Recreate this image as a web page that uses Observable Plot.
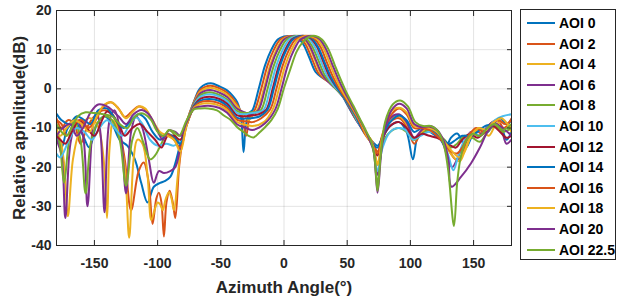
<!DOCTYPE html>
<html><head><meta charset="utf-8">
<script src="https://cdn.jsdelivr.net/npm/d3@7"></script>
<script src="https://cdn.jsdelivr.net/npm/@observablehq/plot@0.6"></script>
<style>
body{margin:0;background:#fff;font-family:"Liberation Sans",Arial,sans-serif;}
#wrap{position:relative;width:617px;height:302px;overflow:hidden;background:#fff;}
#chart{position:absolute;left:0;top:0;}
#legend{position:absolute;left:520px;top:9px;width:96px;height:251px;border:1px solid #262626;background:#fff;box-sizing:border-box;}
.row{position:absolute;left:0;width:94px;height:20px;}
.sw{position:absolute;left:6px;top:9px;width:28px;height:0;border-top:2px solid;}
.lb{position:absolute;left:38px;top:0;line-height:20px;font-weight:bold;font-size:14px;color:#000;white-space:nowrap;}
</style></head>
<body><div id="wrap"><div id="chart"></div><div id="legend"></div></div>
<script>
const names = ["AOI 0","AOI 2","AOI 4","AOI 6","AOI 8","AOI 10","AOI 12","AOI 14","AOI 16","AOI 18","AOI 20","AOI 22.5"];
const colors = ["#0072BD","#D95319","#EDB120","#7E2F8E","#77AC30","#4DBEEE","#A2142F","#0072BD","#D95319","#EDB120","#7E2F8E","#77AC30"];
const xTicks = [-150,-100,-50,0,50,100,150];
const yTicks = [-40,-30,-20,-10,0,10,20];

// [azimuth angle (deg), relative amplitude (dB)]
const aoi0 = [[-180,-11],[-176,-15],[-171,-10],[-165,-8.5],[-159,-12],[-154,-15],[-148,-9],[-142,-7],[-136,-9],[-130,-13],[-124,-14.5],[-118,-18],[-113,-24],[-108,-29],[-103,-25],[-98,-24],[-94,-23.5],[-90,-22.5],[-86,-19],[-82,-14],[-77,-8.5],[-71,-3],[-66,0.3],[-58,1.4],[-51,0.6],[-45,-0.4],[-40,-2],[-37,-3.4],[-34,-7],[-32,-16.2],[-30,-9],[-27,-6],[-25,-5.5],[-20,0],[-15,6],[-10,10],[-5,12.6],[0,13.4],[5,13.5],[10,13.3],[15,11.5],[20,8],[25,4.3],[30,2.9],[35,2],[40,0.9],[45,-1],[50,-4],[55,-6.8],[60,-9.3],[65,-11.5],[70,-13.5],[74,-14.5],[78,-12.5],[84,-9.5],[91,-8.5],[97,-11],[102,-18],[106,-12],[112,-10.5],[118,-11.5],[124,-13],[128,-15],[132,-12.5],[137,-11.4],[141,-13.5],[144,-15],[149,-12],[155,-10],[161,-11],[166,-9],[172,-10],[176,-13],[180,-11]];
const aoi2 = [[-180,-7.6],[-176,-10],[-171,-8],[-166,-9],[-161,-14],[-156,-10],[-150,-7],[-143,-5.5],[-137,-6],[-131,-10],[-126,-18],[-121,-31],[-115,-21],[-111,-18.8],[-107,-24],[-104,-34.5],[-101,-28],[-99,-26.5],[-97,-29],[-95,-37.7],[-93,-29],[-90.5,-26],[-88,-29],[-86,-33],[-83,-20],[-80,-12.5],[-77,-8.5],[-71,-3.2],[-66,-0.2],[-58.2,0.8],[-51,0.1],[-45,-1],[-37,-4],[-33,-7],[-30,-12],[-27,-7],[-23,-5.3],[-18,0],[-13,6],[-8,10],[-3,12.6],[2,13.4],[7,13.5],[12,13.2],[17,11.4],[22,7.8],[27,4.1],[32,2.5],[37,1.4],[42,0.1],[47,-1.9],[52,-4.9],[57,-7.8],[62,-10],[66,-11.8],[70,-13.6],[74,-16],[78,-12],[84,-8.5],[91,-7.5],[97,-9.5],[103,-14],[108,-11.5],[114,-10],[120,-11],[126,-13],[131,-16],[136,-18],[140,-17.5],[145,-13],[151,-10.5],[157,-11.5],[163,-9],[169,-8],[174,-10],[180,-7.6]];
const aoi4 = [[-180,-11],[-177,-13],[-174,-19],[-171,-32.5],[-167,-18],[-162,-11],[-155,-7.5],[-148,-9],[-143,-17],[-140,-33],[-138,-15],[-135,-8],[-131,-11],[-126,-20],[-122.5,-38],[-119,-18],[-116,-13],[-112,-14],[-108,-22],[-105,-33.5],[-102,-30.5],[-100,-29],[-98,-29.5],[-96,-31],[-93.5,-28],[-91,-26.4],[-89,-28],[-87,-31],[-84,-22],[-81,-14],[-77,-8.5],[-71,-3.4],[-66,-0.6],[-58.4,0.3],[-51,-0.4],[-45,-1.5],[-37,-4.5],[-32,-6.5],[-28,-8],[-25,-6.8],[-21,-5.3],[-16,0],[-11,6],[-6,10],[-1,12.6],[4,13.4],[9,13.5],[14,13.2],[19,11.3],[24,7.7],[29,3.9],[34,2.2],[39,0.9],[44,-0.6],[49,-2.7],[54,-5.9],[59,-8.5],[64,-10.9],[70,-13.7],[74,-19],[78,-13],[84,-8],[91,-7],[97,-9],[103,-13],[109,-11],[115,-9.8],[121,-11],[127,-14],[133,-17],[139,-18.5],[144,-15],[150,-11],[156,-10.5],[162,-12],[168,-9],[174,-8.5],[180,-11]];
const aoi6 = [[-180,-13],[-176,-17],[-173,-33],[-169,-14],[-164,-8],[-159,-12],[-155.5,-30],[-151,-9],[-148,-6],[-145,-12],[-142,-31.5],[-138,-8],[-134,-5.5],[-129,-12],[-125,-26.7],[-121,-11],[-117,-7],[-112,-10],[-107,-18],[-103,-24],[-99,-21],[-95,-21.5],[-90,-21],[-86,-20],[-82,-15],[-77,-8.8],[-71,-3.6],[-66,-1.1],[-58.5,-0.3],[-51,-1],[-45,-2.1],[-37,-5.1],[-31,-6],[-27,-6.5],[-24,-6.3],[-20,-5.3],[-15,0],[-10,6],[-5,10],[0,12.6],[5,13.4],[10,13.5],[15,13.1],[20,11.2],[25,7.5],[30,3.8],[35,1.8],[40,0.3],[45,-1.4],[50,-3.6],[55,-6.8],[60,-9.4],[65,-11.6],[70,-14],[74,-22],[78,-13.5],[84,-7.5],[91,-6.5],[97,-8.5],[103,-12.5],[109,-10.5],[115,-9.5],[121,-10.5],[126,-14],[130,-18],[133,-20],[137,-18],[142,-14],[148,-11],[154,-12],[160,-10],[166,-8.5],[172,-10.5],[176,-14],[180,-13]];
const aoi8 = [[-180,-10],[-177,-15],[-174,-24],[-170,-13],[-166,-8],[-161,-13],[-157,-26.7],[-153,-14],[-148,-9],[-142,-7],[-136,-8],[-130,-13],[-125,-24.7],[-120,-13],[-116,-10],[-111,-14],[-106,-18],[-102,-17],[-97,-14],[-91,-10.5],[-86,-12],[-82,-14],[-77,-8.8],[-71,-3.8],[-66,-1.6],[-58.7,-0.9],[-51,-1.6],[-45,-2.7],[-37,-5.7],[-30,-6.2],[-26,-6],[-22,-6],[-18,-5.3],[-13,0],[-8,6],[-3,10],[2,12.6],[7,13.4],[12,13.5],[17,13.05],[22,11],[27,7.4],[32,3.6],[37,1.4],[42,-0.3],[47,-2.1],[52,-4.5],[57,-7.7],[62,-10],[66,-11.8],[70,-14.2],[74,-24],[78,-14],[84,-11],[91,-10],[97,-11],[103,-13],[109,-11.5],[115,-10.5],[121,-11.5],[127,-13],[132,-15],[137,-14],[143,-12],[149,-12.5],[155,-13.5],[161,-11],[167,-9.5],[173,-11],[180,-10]];
const aoi10 = [[-180,-16.6],[-177,-17.5],[-170,-13],[-164,-10],[-158,-11],[-152,-13],[-146,-10],[-140,-8],[-134,-10],[-128,-12],[-122,-9],[-117,-7.3],[-112,-9],[-106,-13],[-100,-14.5],[-93,-14],[-87,-14.5],[-82,-13.5],[-77,-9],[-71,-4],[-66,-2],[-58.9,-1.4],[-51,-2],[-45,-3.2],[-37,-6.2],[-31,-6.5],[-26,-6.2],[-21,-6],[-16,-5.3],[-11,0],[-6,6],[-1,10],[4,12.6],[9,13.4],[14,13.5],[19,13.0],[24,10.9],[29,7.2],[34,3.4],[39,1.0],[44,-0.8],[49,-2.9],[54,-5.4],[59,-8.7],[64,-11],[70,-14.4],[74,-21],[78,-15],[84,-11],[90,-10],[96,-10.5],[102,-13],[108,-12],[114,-11],[120,-11.5],[125,-13],[130,-17],[134,-20.8],[138,-17],[143,-13],[149,-11],[155,-12],[161,-10],[167,-8],[173,-7],[180,-6.5]];
const aoi12 = [[-180,-12],[-177,-13],[-173,-14],[-168,-11],[-162,-8],[-156,-10],[-150,-12],[-144,-8],[-140,-5.8],[-135,-7],[-130,-9.5],[-126,-12],[-120,-10],[-114,-9],[-108,-11],[-102,-13],[-97,-15],[-92,-12],[-87,-12],[-82,-13],[-77,-9],[-71,-4.2],[-66,-2.5],[-59,-2],[-51,-2.6],[-45,-3.8],[-37,-6.8],[-30,-7],[-26,-6.8],[-20,-6.5],[-14,-5.3],[-9,0],[-4,6],[1,10],[6,12.6],[11,13.4],[16,13.5],[21,12.9],[26,10.8],[31,7.0],[36,3.2],[41,0.7],[46,-1.4],[51,-3.6],[56,-6.2],[61,-9.6],[66,-12],[70,-14.5],[74,-17],[78,-12.5],[84,-9.5],[91,-8.5],[97,-10],[103,-12.5],[109,-11.5],[115,-12],[121,-12.5],[127,-13.5],[132,-14.5],[136,-15],[141,-13],[147,-11.5],[153,-12.5],[159,-11],[165,-9.5],[171,-11],[176,-12.5],[180,-12]];
const aoi14 = [[-180,-6.4],[-176,-8],[-170,-9],[-164,-7],[-158,-8],[-153,-9],[-147,-5.5],[-140,-5],[-133,-8],[-127,-10],[-121,-8],[-115,-6.5],[-110,-7.5],[-104,-11],[-98,-13],[-92,-11.5],[-87,-12.5],[-82,-14],[-77,-9.2],[-71,-4.4],[-66,-3],[-59.2,-2.6],[-51,-3.1],[-45,-4.4],[-37,-7.4],[-30,-7.6],[-26,-7.5],[-19,-7],[-13,-5.3],[-8,0],[-3,6],[2,10],[7,12.6],[12,13.4],[17,13.5],[22,12.9],[27,10.7],[32,6.9],[37,3.1],[42,0.3],[47,-2],[52,-4.4],[57,-7.1],[62,-10.5],[66,-12.3],[70,-14.1],[74,-15],[78,-12],[84,-8.5],[91,-6.8],[97,-8],[103,-11],[109,-10],[115,-10],[121,-11.5],[126,-13],[131,-14],[136,-13],[141,-12],[147,-12],[153,-11],[159,-9.5],[165,-9],[171,-7.5],[176,-9],[180,-8]];
const aoi16 = [[-180,-8],[-176,-9],[-172,-12],[-166,-9],[-160,-8],[-155,-10],[-149,-8],[-143,-4.5],[-137,-3.4],[-131,-5],[-126,-7.2],[-121,-6],[-115,-4.5],[-109,-5.5],[-103,-9],[-97,-12],[-92,-11.5],[-87,-13],[-82,-15],[-77,-9.3],[-71,-4.6],[-66,-3.4],[-59.4,-3.1],[-51,-3.7],[-45,-4.9],[-37,-7.9],[-30,-8.3],[-25,-8.5],[-18,-7.5],[-11,-5.3],[-6,0],[-1,6],[4,10],[9,12.6],[14,13.4],[19,13.5],[24,12.8],[29,10.6],[34,6.7],[39,2.9],[44,-0.1],[49,-2.6],[54,-5.1],[59,-8.0],[64,-11.5],[70,-14.2],[74,-16.5],[78,-11.5],[84,-7],[91,-5],[97,-6.5],[103,-10],[109,-10],[115,-10.5],[121,-12],[127,-14],[132,-16],[137,-16.5],[141,-15],[146,-12],[152,-10],[158,-11],[164,-9],[170,-8],[175,-9],[180,-8]];
const aoi18 = [[-180,-10],[-177,-12],[-172,-10],[-166,-8],[-160,-9],[-154,-11],[-148,-7],[-142,-4],[-136,-3.5],[-130,-5.5],[-125,-7.5],[-120,-6],[-115,-4.5],[-110,-5],[-104,-8],[-98,-11],[-92,-12],[-87,-13],[-82,-16],[-77,-9.3],[-71,-4.8],[-66,-3.9],[-59.6,-3.7],[-51,-4.3],[-45,-5.5],[-37,-8.5],[-30,-9.2],[-25,-9.5],[-16,-8.5],[-9,-5.3],[-4,0],[1,6],[6,10],[11,12.6],[16,13.4],[21,13.5],[26,12.7],[31,10.5],[36,6.6],[41,2.7],[46,-0.5],[51,-3.1],[56,-5.9],[61,-8.8],[66,-12.4],[70,-14.3],[74,-19.5],[78,-12],[84,-6],[91,-4.8],[97,-6],[103,-9.5],[109,-9.5],[115,-10],[121,-11],[127,-13.5],[133,-16],[139,-17.5],[143,-16],[148,-12],[154,-10],[160,-10.5],[166,-8.5],[172,-7.5],[177,-9],[180,-10]];
const aoi20 = [[-180,-12],[-175,-10],[-169,-9],[-164,-12],[-159,-10],[-153,-6],[-147,-4],[-140,-4.5],[-131,-7],[-125,-9],[-119,-6.5],[-113,-5.4],[-107,-6.5],[-101,-10],[-96,-13],[-91,-10.6],[-86,-11],[-82,-12],[-77,-8.5],[-71,-5],[-66,-4.5],[-59.8,-4.3],[-51,-4.9],[-45,-6.1],[-37,-9.1],[-30,-10],[-25,-10.5],[-15,-8.8],[-7,-5.3],[-2,0],[3,6],[8,10],[13,12.6],[18,13.4],[23,13.5],[28,12.7],[33,10.3],[38,6.4],[43,2.5],[48,-0.8],[53,-3.7],[58,-6.7],[63,-9.7],[68,-13.3],[71,-16],[74,-26.5],[77,-16],[80,-10],[85,-5.5],[91,-3.8],[97,-5],[103,-9],[109,-9.8],[115,-9.6],[121,-10.5],[126,-13],[130,-18],[132.5,-25],[140,-22.5],[148,-19],[155,-15],[161,-11],[167,-9],[173,-10],[180,-12]];
const aoi22_5 = [[-180,-9],[-176,-11],[-172,-12],[-168,-10],[-163,-7],[-157,-6],[-150,-6.2],[-143,-6.5],[-136,-7],[-130,-9],[-124,-10],[-119,-7.5],[-114,-6.3],[-110,-6.5],[-105,-8],[-100,-11],[-95,-12],[-91,-10.5],[-87,-11],[-83,-12],[-77,-8],[-71,-5.2],[-66,-5],[-60,-5],[-53,-5.5],[-47.6,-6.8],[-42,-8],[-37,-9.8],[-32,-11],[-28,-12],[-24,-12.4],[-19,-11],[-15,-9.8],[-10,-8],[-5,-5.2],[0,0.2],[5,5],[10,9.5],[15,12],[20,13.3],[25,13.5],[30,12.6],[35,10.2],[40,6.2],[45,2.3],[50,-1.3],[55,-4.4],[60,-7.6],[65,-10.8],[69,-13.5],[71.5,-17],[74,-26],[76.5,-17],[80,-8.5],[86,-4],[92,-3],[98,-4.5],[104,-8.5],[110,-9.5],[116,-9.5],[121,-10.5],[124,-12],[127,-15],[130,-21],[134.5,-35],[137,-24],[139.5,-18],[143,-14],[149,-11.5],[155,-12],[161,-10],[167,-9],[173,-10.5],[180,-9]];

const seriesData = [aoi0, aoi2, aoi4, aoi6, aoi8, aoi10, aoi12, aoi14, aoi16, aoi18, aoi20, aoi22_5];
const rows = seriesData.flatMap((pts, i) =>
  pts.slice().sort((a, b) => a[0] - b[0]).map(([angle, db]) => ({aoi: names[i], angle, db})));

const fmt = d => String(d);
const chart = Plot.plot({
  width: 517, height: 302,
  marginLeft: 56, marginRight: 6, marginTop: 10, marginBottom: 57,
  style: {fontFamily: "'Liberation Sans', Arial, sans-serif", fontSize: "14px", fontWeight: "bold", color: "#262626", background: "#fff"},
  x: {domain: [-180, 180]},
  y: {domain: [-40, 20]},
  color: {domain: names, range: colors},
  marks: [
    Plot.gridX(xTicks, {stroke: "#000", strokeOpacity: 0.11, strokeWidth: 1}),
    Plot.gridY(yTicks, {stroke: "#000", strokeOpacity: 0.11, strokeWidth: 1}),
    Plot.line(rows, {x: "angle", y: "db", z: "aoi", stroke: "aoi", strokeWidth: 2, curve: "catmull-rom", clip: true}),
    Plot.frame({stroke: "#262626", strokeWidth: 1}),
    Plot.axisX(xTicks, {anchor: "bottom", tickSize: -5, tickPadding: 18, tickFormat: fmt, label: null, fontSize: 14, fontWeight: "bold"}),
    Plot.axisX(xTicks, {anchor: "top", tickSize: -5, tickFormat: () => "", label: null}),
    Plot.axisY(yTicks, {anchor: "left", tickSize: -5, tickPadding: 10, tickFormat: fmt, label: null, fontSize: 14, fontWeight: "bold"}),
    Plot.axisY(yTicks, {anchor: "right", tickSize: -5, tickFormat: () => "", label: null}),
    Plot.text(["Azimuth Angle(°)"], {frameAnchor: "bottom", dy: 42, text: d => d, textAnchor: "middle", fontSize: 17, fontWeight: "bold", fill: "#262626", lineAnchor: "middle"}),
    Plot.text(["Relative apmlitude(dB)"], {frameAnchor: "left", dx: -37, text: d => d, textAnchor: "middle", rotate: -90, fontSize: 17, fontWeight: "bold", fill: "#262626", lineAnchor: "middle"})
  ]
});
document.getElementById("chart").appendChild(chart);

const legend = document.getElementById("legend");
names.forEach((n, i) => {
  const row = document.createElement("div");
  row.className = "row";
  row.style.top = (3 + 20.6 * i) + "px";
  const sw = document.createElement("div");
  sw.className = "sw";
  sw.style.borderTopColor = colors[i];
  const lb = document.createElement("div");
  lb.className = "lb";
  lb.textContent = n;
  row.appendChild(sw); row.appendChild(lb);
  legend.appendChild(row);
});
</script></body></html>
